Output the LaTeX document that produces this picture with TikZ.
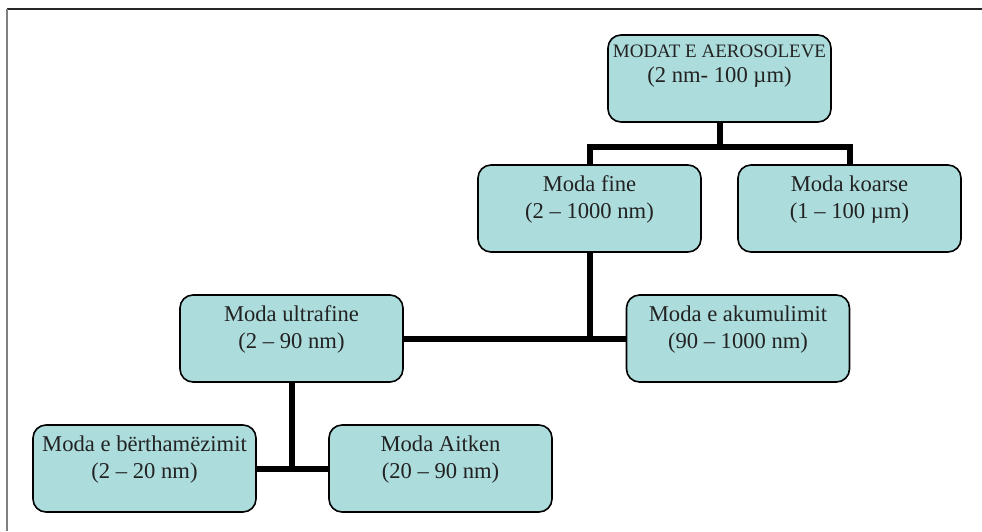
\documentclass[tikz,border=0pt]{standalone}
\usepackage{fontspec}
\setmainfont{Liberation Serif}
\usetikzlibrary{positioning}

\definecolor{modafill}{HTML}{ADDCDC}
\definecolor{modaink}{HTML}{222222}

% two centred lines, the first baseline set by the optional height
\newcommand{\modalines}[3][26pt]{\parbox[c][87pt][t]{222pt}{\centering\rule{0pt}{#1}#2\\#3}}

\tikzset{
  modabox/.style={draw=black, line width=1.6pt, fill=modafill, rounded corners=13pt,
    minimum width=223pt, minimum height=87pt, inner sep=0pt, text=modaink,
    font=\fontsize{22.6}{27}\selectfont},
  link/.style={line width=6pt, black},
}

\begin{document}
\begin{tikzpicture}[x=1pt, y=1pt]
\useasboundingbox (0,0) rectangle (982,-531);
% frame
\draw[line width=1.3pt, black!85] (7,-9) -- (982,-9);
\draw[line width=2pt, black!50] (7,-9) -- (7,-531);

% boxes
\node[modabox, font=\fontsize{22.6}{25}\selectfont] (root) at (719.5,-78.5)
  {\modalines[22pt]{{\fontsize{19}{22}\selectfont MODAT E AEROSOLEVE}}{(2 nm- 100 µm)}};
\node[modabox] (fine) at (589.5,-208.5) {\modalines{Moda fine}{(2 -- 1000 nm)}};
\node[modabox] (koarse) at (849.5,-208.5) {\modalines{Moda koarse}{(1 -- 100 µm)}};
\node[modabox] (ultra) at (291.5,-338.5) {\modalines{Moda ultrafine}{(2 -- 90 nm)}};
\node[modabox] (akum) at (738,-338.5) {\modalines{Moda e akumulimit}{(90 -- 1000 nm)}};
\node[modabox] (berth) at (144.5,-468.5) {\modalines{Moda e bërthamëzimit}{(2 -- 20 nm)}};
\node[modabox] (aitken) at (440.5,-468.5) {\modalines{Moda Aitken}{(20 -- 90 nm)}};

% connectors
\draw[link] (root.south) -- ++(0,-24) -| (fine.north);
\draw[link] (root.south) ++(0,-24) -| (koarse.north);
\draw[link] (fine.south) |- (ultra.east);
\draw[link] (fine.south) |- (akum.west);
\draw[link] (ultra.south) |- (berth.east);
\draw[link] (ultra.south) |- (aitken.west);
\end{tikzpicture}
\end{document}
